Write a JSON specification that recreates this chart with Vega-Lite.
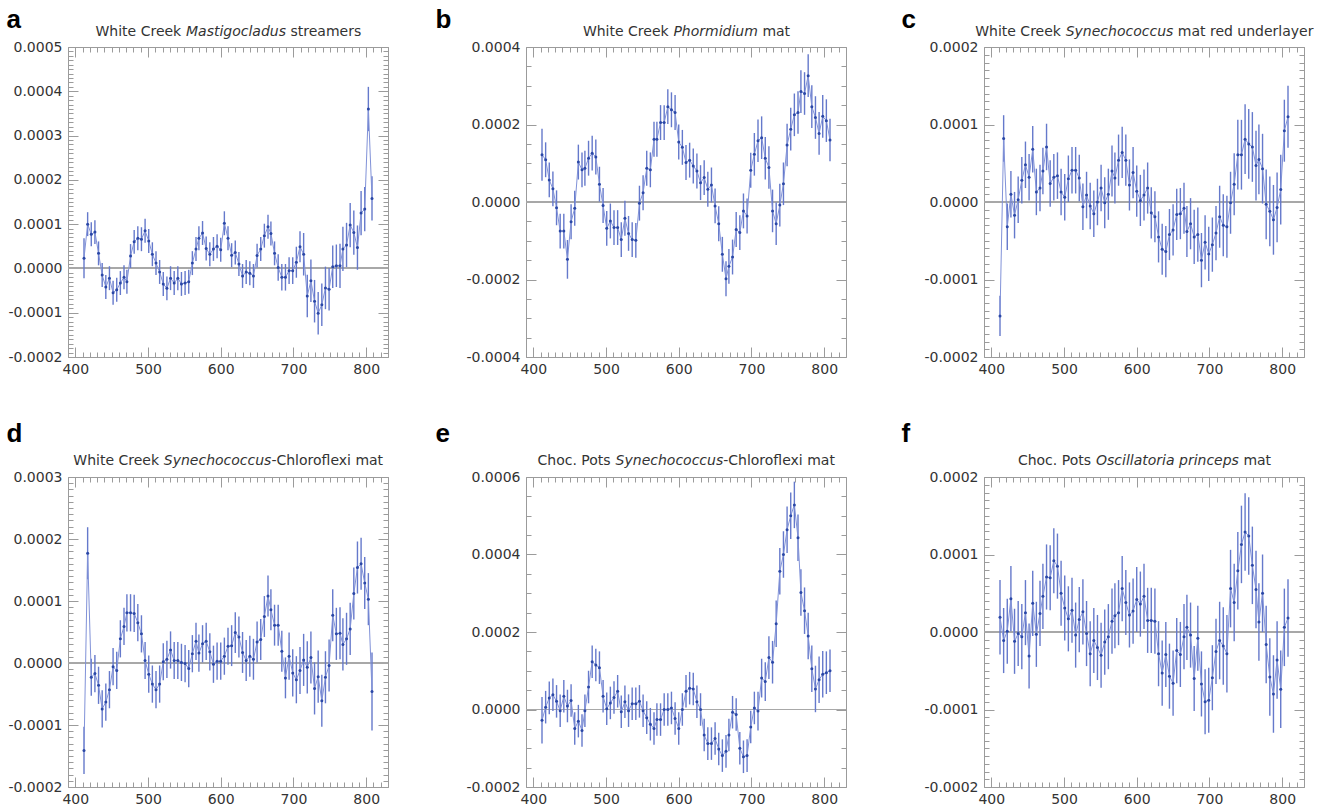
{
"$schema": "https://vega.github.io/schema/vega-lite/v6.json",
"background": "white",
"padding": {"left": 5, "top": 5, "right": 5, "bottom": 5},
"bounds": "flush",
"columns": 3,
"spacing": {"row": 120, "column": 138},
"datasets": {
"a": [
{"x":412,"y":0.23e-4,"e":0.45e-4},{"x":417,"y":1.0e-4,"e":0.27e-4},{"x":422,"y":0.77e-4,"e":0.27e-4},{"x":427,"y":0.82e-4,"e":0.27e-4},{"x":432,"y":0.34e-4,"e":0.27e-4},{"x":437,"y":-0.15e-4,"e":0.27e-4},{"x":442,"y":-0.42e-4,"e":0.27e-4},{"x":447,"y":-0.22e-4,"e":0.27e-4},{"x":452,"y":-0.55e-4,"e":0.27e-4},{"x":457,"y":-0.48e-4,"e":0.27e-4},{"x":462,"y":-0.33e-4,"e":0.27e-4},{"x":467,"y":-0.2e-4,"e":0.27e-4},{"x":471,"y":-0.3e-4,"e":0.27e-4},{"x":476,"y":0.28e-4,"e":0.27e-4},{"x":481,"y":0.6e-4,"e":0.27e-4},{"x":486,"y":0.68e-4,"e":0.27e-4},{"x":491,"y":0.66e-4,"e":0.27e-4},{"x":496,"y":0.85e-4,"e":0.27e-4},{"x":501,"y":0.62e-4,"e":0.27e-4},{"x":506,"y":0.32e-4,"e":0.27e-4},{"x":511,"y":0.12e-4,"e":0.27e-4},{"x":516,"y":-0.08e-4,"e":0.27e-4},{"x":521,"y":-0.35e-4,"e":0.27e-4},{"x":526,"y":-0.45e-4,"e":0.27e-4},{"x":531,"y":-0.22e-4,"e":0.27e-4},{"x":536,"y":-0.33e-4,"e":0.27e-4},{"x":541,"y":-0.22e-4,"e":0.27e-4},{"x":546,"y":-0.35e-4,"e":0.27e-4},{"x":551,"y":-0.33e-4,"e":0.27e-4},{"x":556,"y":-0.3e-4,"e":0.27e-4},{"x":561,"y":0.12e-4,"e":0.27e-4},{"x":566,"y":0.44e-4,"e":0.27e-4},{"x":570,"y":0.68e-4,"e":0.27e-4},{"x":575,"y":0.8e-4,"e":0.27e-4},{"x":580,"y":0.45e-4,"e":0.27e-4},{"x":585,"y":0.32e-4,"e":0.27e-4},{"x":590,"y":0.44e-4,"e":0.27e-4},{"x":595,"y":0.5e-4,"e":0.27e-4},{"x":600,"y":0.42e-4,"e":0.27e-4},{"x":605,"y":1.02e-4,"e":0.27e-4},{"x":610,"y":0.68e-4,"e":0.27e-4},{"x":615,"y":0.3e-4,"e":0.27e-4},{"x":620,"y":0.36e-4,"e":0.27e-4},{"x":625,"y":0.1e-4,"e":0.27e-4},{"x":630,"y":-0.17e-4,"e":0.27e-4},{"x":635,"y":-0.08e-4,"e":0.27e-4},{"x":640,"y":-0.11e-4,"e":0.27e-4},{"x":645,"y":-0.17e-4,"e":0.27e-4},{"x":650,"y":0.29e-4,"e":0.27e-4},{"x":655,"y":0.44e-4,"e":0.27e-4},{"x":660,"y":0.74e-4,"e":0.27e-4},{"x":665,"y":0.94e-4,"e":0.27e-4},{"x":669,"y":0.79e-4,"e":0.27e-4},{"x":674,"y":0.34e-4,"e":0.27e-4},{"x":679,"y":0.02e-4,"e":0.3e-4},{"x":684,"y":-0.2e-4,"e":0.3e-4},{"x":689,"y":-0.2e-4,"e":0.3e-4},{"x":694,"y":-0.05e-4,"e":0.3e-4},{"x":699,"y":-0.05e-4,"e":0.3e-4},{"x":704,"y":0.14e-4,"e":0.35e-4},{"x":709,"y":0.49e-4,"e":0.35e-4},{"x":714,"y":0.32e-4,"e":0.48e-4},{"x":719,"y":-0.62e-4,"e":0.48e-4},{"x":724,"y":-0.28e-4,"e":0.48e-4},{"x":729,"y":-0.74e-4,"e":0.48e-4},{"x":734,"y":-1.01e-4,"e":0.48e-4},{"x":739,"y":-0.82e-4,"e":0.48e-4},{"x":744,"y":-0.44e-4,"e":0.48e-4},{"x":749,"y":-0.47e-4,"e":0.48e-4},{"x":754,"y":0.04e-4,"e":0.48e-4},{"x":759,"y":0.06e-4,"e":0.48e-4},{"x":764,"y":0.06e-4,"e":0.5e-4},{"x":768,"y":0.44e-4,"e":0.5e-4},{"x":773,"y":0.53e-4,"e":0.5e-4},{"x":778,"y":0.98e-4,"e":0.5e-4},{"x":783,"y":0.81e-4,"e":0.5e-4},{"x":788,"y":0.47e-4,"e":0.5e-4},{"x":793,"y":1.25e-4,"e":0.5e-4},{"x":798,"y":1.34e-4,"e":0.5e-4},{"x":803,"y":3.6e-4,"e":0.5e-4},{"x":808,"y":1.58e-4,"e":0.5e-4}
],
"b": [
{"x":412,"y":1.22e-4,"e":0.67e-4},{"x":417,"y":1.09e-4,"e":0.45e-4},{"x":422,"y":0.57e-4,"e":0.45e-4},{"x":427,"y":0.34e-4,"e":0.45e-4},{"x":432,"y":-0.15e-4,"e":0.45e-4},{"x":437,"y":-0.75e-4,"e":0.45e-4},{"x":442,"y":-0.75e-4,"e":0.45e-4},{"x":447,"y":-1.48e-4,"e":0.5e-4},{"x":452,"y":-0.51e-4,"e":0.45e-4},{"x":457,"y":-0.16e-4,"e":0.45e-4},{"x":462,"y":1.03e-4,"e":0.45e-4},{"x":467,"y":0.83e-4,"e":0.45e-4},{"x":471,"y":0.87e-4,"e":0.45e-4},{"x":476,"y":1.13e-4,"e":0.45e-4},{"x":481,"y":1.26e-4,"e":0.45e-4},{"x":486,"y":1.16e-4,"e":0.45e-4},{"x":491,"y":0.46e-4,"e":0.45e-4},{"x":496,"y":-0.09e-4,"e":0.45e-4},{"x":501,"y":-0.68e-4,"e":0.45e-4},{"x":506,"y":-0.49e-4,"e":0.45e-4},{"x":511,"y":-0.66e-4,"e":0.45e-4},{"x":516,"y":-0.66e-4,"e":0.45e-4},{"x":521,"y":-0.97e-4,"e":0.45e-4},{"x":526,"y":-0.42e-4,"e":0.45e-4},{"x":531,"y":-0.81e-4,"e":0.45e-4},{"x":536,"y":-0.97e-4,"e":0.45e-4},{"x":541,"y":-0.99e-4,"e":0.45e-4},{"x":546,"y":-0.03e-4,"e":0.45e-4},{"x":551,"y":0.24e-4,"e":0.45e-4},{"x":556,"y":0.87e-4,"e":0.45e-4},{"x":561,"y":0.83e-4,"e":0.45e-4},{"x":566,"y":1.62e-4,"e":0.45e-4},{"x":570,"y":1.62e-4,"e":0.45e-4},{"x":575,"y":2.05e-4,"e":0.45e-4},{"x":580,"y":2.05e-4,"e":0.45e-4},{"x":585,"y":2.46e-4,"e":0.45e-4},{"x":590,"y":2.38e-4,"e":0.45e-4},{"x":595,"y":2.31e-4,"e":0.45e-4},{"x":600,"y":1.55e-4,"e":0.45e-4},{"x":605,"y":1.41e-4,"e":0.45e-4},{"x":610,"y":1.02e-4,"e":0.45e-4},{"x":615,"y":1.08e-4,"e":0.45e-4},{"x":620,"y":0.93e-4,"e":0.45e-4},{"x":625,"y":0.8e-4,"e":0.45e-4},{"x":630,"y":0.5e-4,"e":0.45e-4},{"x":635,"y":0.63e-4,"e":0.45e-4},{"x":640,"y":0.33e-4,"e":0.45e-4},{"x":645,"y":0.44e-4,"e":0.45e-4},{"x":650,"y":-0.1e-4,"e":0.45e-4},{"x":655,"y":-0.56e-4,"e":0.45e-4},{"x":660,"y":-1.35e-4,"e":0.45e-4},{"x":665,"y":-1.98e-4,"e":0.45e-4},{"x":669,"y":-1.66e-4,"e":0.45e-4},{"x":674,"y":-1.42e-4,"e":0.45e-4},{"x":679,"y":-0.71e-4,"e":0.45e-4},{"x":684,"y":-0.79e-4,"e":0.45e-4},{"x":689,"y":-0.23e-4,"e":0.45e-4},{"x":694,"y":-0.36e-4,"e":0.45e-4},{"x":699,"y":0.82e-4,"e":0.45e-4},{"x":704,"y":1.23e-4,"e":0.55e-4},{"x":709,"y":1.58e-4,"e":0.55e-4},{"x":714,"y":1.66e-4,"e":0.55e-4},{"x":719,"y":1.13e-4,"e":0.55e-4},{"x":724,"y":0.89e-4,"e":0.55e-4},{"x":729,"y":-0.23e-4,"e":0.55e-4},{"x":734,"y":-0.56e-4,"e":0.55e-4},{"x":739,"y":-0.08e-4,"e":0.55e-4},{"x":744,"y":0.47e-4,"e":0.55e-4},{"x":749,"y":1.47e-4,"e":0.55e-4},{"x":754,"y":1.88e-4,"e":0.55e-4},{"x":759,"y":2.25e-4,"e":0.55e-4},{"x":764,"y":2.31e-4,"e":0.55e-4},{"x":768,"y":2.85e-4,"e":0.55e-4},{"x":773,"y":2.8e-4,"e":0.55e-4},{"x":778,"y":3.26e-4,"e":0.55e-4},{"x":783,"y":2.46e-4,"e":0.55e-4},{"x":788,"y":2.18e-4,"e":0.55e-4},{"x":793,"y":1.77e-4,"e":0.55e-4},{"x":798,"y":2.21e-4,"e":0.55e-4},{"x":803,"y":2.1e-4,"e":0.55e-4},{"x":808,"y":1.6e-4,"e":0.55e-4}
],
"c": [
{"x":412,"y":-1.47e-4,"e":0.26e-4},{"x":417,"y":0.82e-4,"e":0.3e-4},{"x":422,"y":-0.32e-4,"e":0.3e-4},{"x":427,"y":0.1e-4,"e":0.3e-4},{"x":432,"y":-0.17e-4,"e":0.3e-4},{"x":437,"y":0.03e-4,"e":0.3e-4},{"x":442,"y":0.28e-4,"e":0.3e-4},{"x":447,"y":0.48e-4,"e":0.3e-4},{"x":452,"y":0.32e-4,"e":0.3e-4},{"x":457,"y":0.68e-4,"e":0.3e-4},{"x":462,"y":0.13e-4,"e":0.3e-4},{"x":467,"y":0.18e-4,"e":0.3e-4},{"x":471,"y":0.4e-4,"e":0.3e-4},{"x":476,"y":0.71e-4,"e":0.3e-4},{"x":481,"y":0.24e-4,"e":0.3e-4},{"x":486,"y":0.32e-4,"e":0.3e-4},{"x":491,"y":0.34e-4,"e":0.3e-4},{"x":496,"y":0.13e-4,"e":0.3e-4},{"x":501,"y":0.06e-4,"e":0.3e-4},{"x":506,"y":0.3e-4,"e":0.3e-4},{"x":511,"y":0.41e-4,"e":0.3e-4},{"x":516,"y":0.41e-4,"e":0.3e-4},{"x":521,"y":0.31e-4,"e":0.3e-4},{"x":526,"y":-0.06e-4,"e":0.3e-4},{"x":531,"y":0.09e-4,"e":0.3e-4},{"x":536,"y":-0.05e-4,"e":0.3e-4},{"x":541,"y":-0.15e-4,"e":0.3e-4},{"x":546,"y":0,"e":0.3e-4},{"x":551,"y":0.18e-4,"e":0.3e-4},{"x":556,"y":-0.01e-4,"e":0.33e-4},{"x":561,"y":0.1e-4,"e":0.33e-4},{"x":566,"y":0.4e-4,"e":0.33e-4},{"x":570,"y":0.31e-4,"e":0.33e-4},{"x":575,"y":0.54e-4,"e":0.33e-4},{"x":580,"y":0.64e-4,"e":0.33e-4},{"x":585,"y":0.54e-4,"e":0.33e-4},{"x":590,"y":0.22e-4,"e":0.33e-4},{"x":595,"y":0.38e-4,"e":0.33e-4},{"x":600,"y":0.14e-4,"e":0.33e-4},{"x":605,"y":0.02e-4,"e":0.33e-4},{"x":610,"y":0.09e-4,"e":0.33e-4},{"x":615,"y":0.18e-4,"e":0.33e-4},{"x":620,"y":-0.14e-4,"e":0.33e-4},{"x":625,"y":-0.19e-4,"e":0.33e-4},{"x":630,"y":-0.45e-4,"e":0.33e-4},{"x":635,"y":-0.61e-4,"e":0.33e-4},{"x":640,"y":-0.64e-4,"e":0.33e-4},{"x":645,"y":-0.42e-4,"e":0.33e-4},{"x":650,"y":-0.36e-4,"e":0.33e-4},{"x":655,"y":-0.16e-4,"e":0.33e-4},{"x":660,"y":-0.15e-4,"e":0.33e-4},{"x":665,"y":-0.08e-4,"e":0.33e-4},{"x":669,"y":-0.38e-4,"e":0.33e-4},{"x":674,"y":-0.28e-4,"e":0.33e-4},{"x":679,"y":-0.45e-4,"e":0.35e-4},{"x":684,"y":-0.42e-4,"e":0.35e-4},{"x":689,"y":-0.75e-4,"e":0.35e-4},{"x":694,"y":-0.52e-4,"e":0.35e-4},{"x":699,"y":-0.67e-4,"e":0.35e-4},{"x":704,"y":-0.55e-4,"e":0.35e-4},{"x":709,"y":-0.4e-4,"e":0.35e-4},{"x":714,"y":-0.19e-4,"e":0.4e-4},{"x":719,"y":-0.3e-4,"e":0.4e-4},{"x":724,"y":-0.32e-4,"e":0.4e-4},{"x":729,"y":-0.01e-4,"e":0.4e-4},{"x":734,"y":0.23e-4,"e":0.4e-4},{"x":739,"y":0.61e-4,"e":0.45e-4},{"x":744,"y":0.61e-4,"e":0.45e-4},{"x":749,"y":0.81e-4,"e":0.45e-4},{"x":754,"y":0.75e-4,"e":0.45e-4},{"x":759,"y":0.71e-4,"e":0.45e-4},{"x":764,"y":0.47e-4,"e":0.45e-4},{"x":768,"y":0.55e-4,"e":0.45e-4},{"x":773,"y":0.43e-4,"e":0.45e-4},{"x":778,"y":-0.03e-4,"e":0.45e-4},{"x":783,"y":-0.12e-4,"e":0.45e-4},{"x":788,"y":-0.23e-4,"e":0.45e-4},{"x":793,"y":-0.07e-4,"e":0.45e-4},{"x":798,"y":0.16e-4,"e":0.45e-4},{"x":803,"y":0.92e-4,"e":0.4e-4},{"x":808,"y":1.1e-4,"e":0.4e-4}
],
"d": [
{"x":412,"y":-1.41e-4,"e":0.38e-4},{"x":417,"y":1.77e-4,"e":0.42e-4},{"x":422,"y":-0.23e-4,"e":0.3e-4},{"x":427,"y":-0.17e-4,"e":0.3e-4},{"x":432,"y":-0.36e-4,"e":0.3e-4},{"x":437,"y":-0.74e-4,"e":0.3e-4},{"x":442,"y":-0.63e-4,"e":0.3e-4},{"x":447,"y":-0.43e-4,"e":0.3e-4},{"x":452,"y":-0.06e-4,"e":0.3e-4},{"x":457,"y":-0.12e-4,"e":0.3e-4},{"x":462,"y":0.39e-4,"e":0.3e-4},{"x":467,"y":0.59e-4,"e":0.3e-4},{"x":471,"y":0.81e-4,"e":0.3e-4},{"x":476,"y":0.81e-4,"e":0.3e-4},{"x":481,"y":0.8e-4,"e":0.3e-4},{"x":486,"y":0.65e-4,"e":0.3e-4},{"x":491,"y":0.47e-4,"e":0.3e-4},{"x":496,"y":0.04e-4,"e":0.3e-4},{"x":501,"y":-0.18e-4,"e":0.3e-4},{"x":506,"y":-0.34e-4,"e":0.3e-4},{"x":511,"y":-0.43e-4,"e":0.3e-4},{"x":516,"y":-0.34e-4,"e":0.3e-4},{"x":521,"y":0.02e-4,"e":0.3e-4},{"x":526,"y":0.06e-4,"e":0.3e-4},{"x":531,"y":0.21e-4,"e":0.3e-4},{"x":536,"y":0.04e-4,"e":0.3e-4},{"x":541,"y":0.04e-4,"e":0.3e-4},{"x":546,"y":0.01e-4,"e":0.3e-4},{"x":551,"y":-0.01e-4,"e":0.3e-4},{"x":556,"y":-0.09e-4,"e":0.3e-4},{"x":561,"y":0.15e-4,"e":0.3e-4},{"x":566,"y":0.35e-4,"e":0.3e-4},{"x":570,"y":0.16e-4,"e":0.3e-4},{"x":575,"y":0.31e-4,"e":0.3e-4},{"x":580,"y":0.35e-4,"e":0.3e-4},{"x":585,"y":0.18e-4,"e":0.3e-4},{"x":590,"y":-0.02e-4,"e":0.3e-4},{"x":595,"y":0.03e-4,"e":0.3e-4},{"x":600,"y":0.03e-4,"e":0.3e-4},{"x":605,"y":0.11e-4,"e":0.3e-4},{"x":610,"y":0.27e-4,"e":0.3e-4},{"x":615,"y":0.28e-4,"e":0.33e-4},{"x":620,"y":0.49e-4,"e":0.33e-4},{"x":625,"y":0.42e-4,"e":0.33e-4},{"x":630,"y":0.17e-4,"e":0.33e-4},{"x":635,"y":0.04e-4,"e":0.33e-4},{"x":640,"y":0.11e-4,"e":0.33e-4},{"x":645,"y":0.06e-4,"e":0.33e-4},{"x":650,"y":0.34e-4,"e":0.33e-4},{"x":655,"y":0.38e-4,"e":0.33e-4},{"x":660,"y":0.75e-4,"e":0.33e-4},{"x":665,"y":1.08e-4,"e":0.33e-4},{"x":669,"y":0.86e-4,"e":0.33e-4},{"x":674,"y":0.61e-4,"e":0.33e-4},{"x":679,"y":0.61e-4,"e":0.33e-4},{"x":684,"y":0.19e-4,"e":0.33e-4},{"x":689,"y":-0.24e-4,"e":0.33e-4},{"x":694,"y":0.11e-4,"e":0.38e-4},{"x":699,"y":-0.16e-4,"e":0.38e-4},{"x":704,"y":-0.27e-4,"e":0.38e-4},{"x":709,"y":-0.12e-4,"e":0.38e-4},{"x":714,"y":0.05e-4,"e":0.42e-4},{"x":719,"y":-0.07e-4,"e":0.42e-4},{"x":724,"y":0.09e-4,"e":0.42e-4},{"x":729,"y":-0.41e-4,"e":0.42e-4},{"x":734,"y":-0.22e-4,"e":0.42e-4},{"x":739,"y":-0.61e-4,"e":0.42e-4},{"x":744,"y":-0.23e-4,"e":0.42e-4},{"x":749,"y":-0.04e-4,"e":0.42e-4},{"x":754,"y":0.77e-4,"e":0.42e-4},{"x":759,"y":0.47e-4,"e":0.42e-4},{"x":764,"y":0.48e-4,"e":0.42e-4},{"x":768,"y":0.3e-4,"e":0.42e-4},{"x":773,"y":0.39e-4,"e":0.42e-4},{"x":778,"y":0.55e-4,"e":0.42e-4},{"x":783,"y":1.12e-4,"e":0.42e-4},{"x":788,"y":1.54e-4,"e":0.42e-4},{"x":793,"y":1.6e-4,"e":0.42e-4},{"x":798,"y":1.29e-4,"e":0.42e-4},{"x":803,"y":1.03e-4,"e":0.42e-4},{"x":808,"y":-0.46e-4,"e":0.63e-4}
],
"e": [
{"x":412,"y":-0.28e-4,"e":0.6e-4},{"x":417,"y":0.06e-4,"e":0.42e-4},{"x":422,"y":0.3e-4,"e":0.42e-4},{"x":427,"y":0.38e-4,"e":0.42e-4},{"x":432,"y":0.21e-4,"e":0.42e-4},{"x":437,"y":-0.03e-4,"e":0.42e-4},{"x":442,"y":0.34e-4,"e":0.42e-4},{"x":447,"y":0.09e-4,"e":0.42e-4},{"x":452,"y":0.23e-4,"e":0.42e-4},{"x":457,"y":-0.49e-4,"e":0.42e-4},{"x":462,"y":-0.3e-4,"e":0.42e-4},{"x":467,"y":-0.54e-4,"e":0.42e-4},{"x":471,"y":-0.03e-4,"e":0.42e-4},{"x":476,"y":0.58e-4,"e":0.42e-4},{"x":481,"y":1.23e-4,"e":0.42e-4},{"x":486,"y":1.15e-4,"e":0.42e-4},{"x":491,"y":1.08e-4,"e":0.42e-4},{"x":496,"y":0.34e-4,"e":0.42e-4},{"x":501,"y":0.02e-4,"e":0.42e-4},{"x":506,"y":0.17e-4,"e":0.42e-4},{"x":511,"y":0.31e-4,"e":0.42e-4},{"x":516,"y":0.47e-4,"e":0.42e-4},{"x":521,"y":-0.06e-4,"e":0.42e-4},{"x":526,"y":0.2e-4,"e":0.42e-4},{"x":531,"y":-0.03e-4,"e":0.42e-4},{"x":536,"y":0.15e-4,"e":0.42e-4},{"x":541,"y":0.15e-4,"e":0.42e-4},{"x":546,"y":0.21e-4,"e":0.42e-4},{"x":551,"y":-0.03e-4,"e":0.42e-4},{"x":556,"y":-0.21e-4,"e":0.42e-4},{"x":561,"y":-0.38e-4,"e":0.42e-4},{"x":566,"y":-0.49e-4,"e":0.42e-4},{"x":570,"y":-0.26e-4,"e":0.42e-4},{"x":575,"y":-0.26e-4,"e":0.42e-4},{"x":580,"y":0,"e":0.42e-4},{"x":585,"y":0,"e":0.42e-4},{"x":590,"y":0.04e-4,"e":0.42e-4},{"x":595,"y":-0.23e-4,"e":0.42e-4},{"x":600,"y":-0.49e-4,"e":0.42e-4},{"x":605,"y":0,"e":0.42e-4},{"x":610,"y":0.47e-4,"e":0.42e-4},{"x":615,"y":0.55e-4,"e":0.42e-4},{"x":620,"y":0.53e-4,"e":0.42e-4},{"x":625,"y":0.2e-4,"e":0.42e-4},{"x":630,"y":0,"e":0.42e-4},{"x":635,"y":-0.66e-4,"e":0.42e-4},{"x":640,"y":-0.88e-4,"e":0.42e-4},{"x":645,"y":-0.88e-4,"e":0.42e-4},{"x":650,"y":-0.75e-4,"e":0.42e-4},{"x":655,"y":-1.02e-4,"e":0.42e-4},{"x":660,"y":-1.19e-4,"e":0.42e-4},{"x":665,"y":-1.08e-4,"e":0.42e-4},{"x":669,"y":-0.66e-4,"e":0.42e-4},{"x":674,"y":-0.07e-4,"e":0.42e-4},{"x":679,"y":-0.13e-4,"e":0.42e-4},{"x":684,"y":-1.0e-4,"e":0.42e-4},{"x":689,"y":-1.22e-4,"e":0.42e-4},{"x":694,"y":-1.19e-4,"e":0.42e-4},{"x":699,"y":-0.45e-4,"e":0.42e-4},{"x":704,"y":0.04e-4,"e":0.42e-4},{"x":709,"y":-0.04e-4,"e":0.5e-4},{"x":714,"y":0.81e-4,"e":0.5e-4},{"x":719,"y":0.72e-4,"e":0.5e-4},{"x":724,"y":1.34e-4,"e":0.55e-4},{"x":729,"y":1.22e-4,"e":0.55e-4},{"x":734,"y":2.21e-4,"e":0.6e-4},{"x":739,"y":3.57e-4,"e":0.6e-4},{"x":744,"y":4.0e-4,"e":0.6e-4},{"x":749,"y":4.64e-4,"e":0.6e-4},{"x":754,"y":5.0e-4,"e":0.6e-4},{"x":759,"y":5.28e-4,"e":0.6e-4},{"x":764,"y":4.43e-4,"e":0.6e-4},{"x":768,"y":3.02e-4,"e":0.6e-4},{"x":773,"y":2.55e-4,"e":0.6e-4},{"x":778,"y":1.9e-4,"e":0.6e-4},{"x":783,"y":1.05e-4,"e":0.6e-4},{"x":788,"y":0.53e-4,"e":0.6e-4},{"x":793,"y":0.77e-4,"e":0.6e-4},{"x":798,"y":0.91e-4,"e":0.6e-4},{"x":803,"y":0.95e-4,"e":0.55e-4},{"x":808,"y":1.0e-4,"e":0.55e-4}
],
"f": [
{"x":412,"y":0.19e-4,"e":0.48e-4},{"x":417,"y":-0.11e-4,"e":0.42e-4},{"x":422,"y":0.01e-4,"e":0.42e-4},{"x":427,"y":0.43e-4,"e":0.42e-4},{"x":432,"y":-0.12e-4,"e":0.42e-4},{"x":437,"y":-0.02e-4,"e":0.42e-4},{"x":442,"y":-0.06e-4,"e":0.42e-4},{"x":447,"y":0.25e-4,"e":0.42e-4},{"x":452,"y":-0.31e-4,"e":0.42e-4},{"x":457,"y":0.37e-4,"e":0.42e-4},{"x":462,"y":-0.03e-4,"e":0.42e-4},{"x":467,"y":0.24e-4,"e":0.42e-4},{"x":471,"y":0.46e-4,"e":0.42e-4},{"x":476,"y":0.71e-4,"e":0.42e-4},{"x":481,"y":0.7e-4,"e":0.42e-4},{"x":486,"y":0.92e-4,"e":0.42e-4},{"x":491,"y":0.85e-4,"e":0.42e-4},{"x":496,"y":0.5e-4,"e":0.42e-4},{"x":501,"y":0.31e-4,"e":0.42e-4},{"x":506,"y":0.17e-4,"e":0.42e-4},{"x":511,"y":0.28e-4,"e":0.42e-4},{"x":516,"y":-0.04e-4,"e":0.42e-4},{"x":521,"y":0.16e-4,"e":0.42e-4},{"x":526,"y":0.26e-4,"e":0.42e-4},{"x":531,"y":-0.02e-4,"e":0.42e-4},{"x":536,"y":-0.28e-4,"e":0.42e-4},{"x":541,"y":-0.11e-4,"e":0.42e-4},{"x":546,"y":-0.2e-4,"e":0.42e-4},{"x":551,"y":-0.3e-4,"e":0.42e-4},{"x":556,"y":-0.13e-4,"e":0.42e-4},{"x":561,"y":-0.06e-4,"e":0.42e-4},{"x":566,"y":0.14e-4,"e":0.42e-4},{"x":570,"y":0.21e-4,"e":0.42e-4},{"x":575,"y":0.25e-4,"e":0.42e-4},{"x":580,"y":0.56e-4,"e":0.42e-4},{"x":585,"y":0.38e-4,"e":0.42e-4},{"x":590,"y":0.22e-4,"e":0.42e-4},{"x":595,"y":0.27e-4,"e":0.42e-4},{"x":600,"y":0.42e-4,"e":0.42e-4},{"x":605,"y":0.36e-4,"e":0.42e-4},{"x":610,"y":0.46e-4,"e":0.42e-4},{"x":615,"y":0.15e-4,"e":0.42e-4},{"x":620,"y":0.15e-4,"e":0.42e-4},{"x":625,"y":0.14e-4,"e":0.42e-4},{"x":630,"y":-0.28e-4,"e":0.42e-4},{"x":635,"y":-0.53e-4,"e":0.42e-4},{"x":640,"y":-0.29e-4,"e":0.42e-4},{"x":645,"y":-0.57e-4,"e":0.42e-4},{"x":650,"y":-0.66e-4,"e":0.42e-4},{"x":655,"y":-0.24e-4,"e":0.42e-4},{"x":660,"y":-0.29e-4,"e":0.42e-4},{"x":665,"y":-0.06e-4,"e":0.42e-4},{"x":669,"y":0.06e-4,"e":0.42e-4},{"x":674,"y":-0.04e-4,"e":0.42e-4},{"x":679,"y":-0.6e-4,"e":0.42e-4},{"x":684,"y":-0.08e-4,"e":0.42e-4},{"x":689,"y":-0.67e-4,"e":0.42e-4},{"x":694,"y":-0.9e-4,"e":0.42e-4},{"x":699,"y":-0.88e-4,"e":0.42e-4},{"x":704,"y":-0.59e-4,"e":0.42e-4},{"x":709,"y":-0.25e-4,"e":0.42e-4},{"x":714,"y":-0.11e-4,"e":0.5e-4},{"x":719,"y":-0.18e-4,"e":0.5e-4},{"x":724,"y":-0.28e-4,"e":0.5e-4},{"x":729,"y":0.56e-4,"e":0.5e-4},{"x":734,"y":0.38e-4,"e":0.5e-4},{"x":739,"y":0.79e-4,"e":0.5e-4},{"x":744,"y":1.13e-4,"e":0.5e-4},{"x":749,"y":1.29e-4,"e":0.5e-4},{"x":754,"y":1.24e-4,"e":0.5e-4},{"x":759,"y":0.86e-4,"e":0.5e-4},{"x":764,"y":0.55e-4,"e":0.5e-4},{"x":768,"y":0.13e-4,"e":0.5e-4},{"x":773,"y":0.5e-4,"e":0.5e-4},{"x":778,"y":-0.16e-4,"e":0.5e-4},{"x":783,"y":-0.58e-4,"e":0.5e-4},{"x":788,"y":-0.8e-4,"e":0.5e-4},{"x":793,"y":-0.36e-4,"e":0.5e-4},{"x":798,"y":-0.74e-4,"e":0.5e-4},{"x":803,"y":0.06e-4,"e":0.5e-4},{"x":808,"y":0.18e-4,"e":0.5e-4}
]
},
"concat": [
{
"width": 320, "height": 310,
"data": {"name": "a"},
"layer": [
{"mark": {"type": "rule", "color": "#a8a8a8", "strokeWidth": 1.2}, "encoding": {"y": {"datum": 0, "type": "quantitative", "scale": {"domain": [-0.0002, 0.0005], "nice": false}, "axis": null}}},
{"mark": {"type": "errorbar", "ticks": false, "color": "#6579cb", "thickness": 1.4}, "encoding": {"x": {"field": "x", "type": "quantitative", "scale": {"domain": [390, 830], "nice": false}, "axis": null}, "y": {"field": "y", "type": "quantitative", "scale": {"domain": [-0.0002, 0.0005], "nice": false}, "axis": null}, "yError": {"field": "e"}}},
{"mark": {"type": "line", "color": "#8192d8", "strokeWidth": 1}, "encoding": {
"x": {"field": "x", "type": "quantitative", "scale": {"domain": [390, 830], "nice": false}, "axis": {"orient": "bottom", "title": "streamers", "titleX": 222, "titleY": -322, "tickCount": 44, "labelExpr": "datum.value % 100 === 0 ? datum.label : ''", "tickSize": {"condition": {"test": "datum.value % 100 === 0", "value": -10}, "value": -5}, "labelPadding": 15}},
"y": {"field": "y", "type": "quantitative", "scale": {"domain": [-0.0002, 0.0005], "nice": false}, "axis": {"orient": "left", "tickCount": 70, "labelExpr": "abs(datum.value*10000-round(datum.value*10000))<0.001 ? replace(format(datum.value,'.4f'),'\u2212','-') : ''", "tickSize": {"condition": {"test": "abs(datum.value*10000-round(datum.value*10000))<0.001", "value": -10}, "value": -5}, "labelPadding": 16, "title": "a", "titleX": -62, "titleY": -20, "titleFont": "Liberation Sans", "titleFontSize": 26, "titleFontWeight": "bold", "titleColor": "#000000"}}}},
{"mark": {"type": "circle", "color": "#2a47a6", "size": 9, "opacity": 1}, "encoding": {
"x": {"field": "x", "type": "quantitative", "scale": {"domain": [390, 830], "nice": false}, "axis": {"orient": "top", "title": "White Creek", "titleX": 27, "titleY": -12, "labels": false, "tickCount": 44, "tickSize": {"condition": {"test": "datum.value % 100 === 0", "value": -10}, "value": -5}}},
"y": {"field": "y", "type": "quantitative", "scale": {"domain": [-0.0002, 0.0005], "nice": false}, "axis": {"orient": "right", "title": "Mastigocladus", "titleX": -202.5, "titleY": -12, "titleFontStyle": "italic", "labels": false, "tickCount": 70, "tickSize": {"condition": {"test": "abs(datum.value*10000-round(datum.value*10000))<0.001", "value": -10}, "value": -5}}}}}
],
"resolve": {"axis": {"x": "independent", "y": "independent"}}
},
{
"width": 320, "height": 310,
"data": {"name": "b"},
"layer": [
{"mark": {"type": "rule", "color": "#a8a8a8", "strokeWidth": 1.2}, "encoding": {"y": {"datum": 0, "type": "quantitative", "scale": {"domain": [-0.0004, 0.0004], "nice": false}, "axis": null}}},
{"mark": {"type": "errorbar", "ticks": false, "color": "#6579cb", "thickness": 1.4}, "encoding": {"x": {"field": "x", "type": "quantitative", "scale": {"domain": [390, 830], "nice": false}, "axis": null}, "y": {"field": "y", "type": "quantitative", "scale": {"domain": [-0.0004, 0.0004], "nice": false}, "axis": null}, "yError": {"field": "e"}}},
{"mark": {"type": "line", "color": "#8192d8", "strokeWidth": 1}, "encoding": {
"x": {"field": "x", "type": "quantitative", "scale": {"domain": [390, 830], "nice": false}, "axis": {"orient": "bottom", "title": "mat", "titleX": 235.9, "titleY": -322, "tickCount": 44, "labelExpr": "datum.value % 100 === 0 ? datum.label : ''", "tickSize": {"condition": {"test": "datum.value % 100 === 0", "value": -10}, "value": -5}, "labelPadding": 15}},
"y": {"field": "y", "type": "quantitative", "scale": {"domain": [-0.0004, 0.0004], "nice": false}, "axis": {"orient": "left", "tickCount": 16, "labelExpr": "abs(datum.value*5000-round(datum.value*5000))<0.001 ? replace(format(datum.value,'.4f'),'\u2212','-') : ''", "tickSize": {"condition": {"test": "abs(datum.value*5000-round(datum.value*5000))<0.001", "value": -10}, "value": -5}, "labelPadding": 16, "title": "b", "titleX": -91, "titleY": -20, "titleFont": "Liberation Sans", "titleFontSize": 26, "titleFontWeight": "bold", "titleColor": "#000000"}}}},
{"mark": {"type": "circle", "color": "#2a47a6", "size": 9, "opacity": 1}, "encoding": {
"x": {"field": "x", "type": "quantitative", "scale": {"domain": [390, 830], "nice": false}, "axis": {"orient": "top", "title": "White Creek", "titleX": 56.4, "titleY": -12, "labels": false, "tickCount": 44, "tickSize": {"condition": {"test": "datum.value % 100 === 0", "value": -10}, "value": -5}}},
"y": {"field": "y", "type": "quantitative", "scale": {"domain": [-0.0004, 0.0004], "nice": false}, "axis": {"orient": "right", "title": "Phormidium", "titleX": -173.1, "titleY": -12, "titleFontStyle": "italic", "labels": false, "tickCount": 16, "tickSize": {"condition": {"test": "abs(datum.value*5000-round(datum.value*5000))<0.001", "value": -10}, "value": -5}}}}}
],
"resolve": {"axis": {"x": "independent", "y": "independent"}}
},
{
"width": 320, "height": 310,
"data": {"name": "c"},
"layer": [
{"mark": {"type": "rule", "color": "#a8a8a8", "strokeWidth": 1.2}, "encoding": {"y": {"datum": 0, "type": "quantitative", "scale": {"domain": [-0.0002, 0.0002], "nice": false}, "axis": null}}},
{"mark": {"type": "errorbar", "ticks": false, "color": "#6579cb", "thickness": 1.4}, "encoding": {"x": {"field": "x", "type": "quantitative", "scale": {"domain": [390, 830], "nice": false}, "axis": null}, "y": {"field": "y", "type": "quantitative", "scale": {"domain": [-0.0002, 0.0002], "nice": false}, "axis": null}, "yError": {"field": "e"}}},
{"mark": {"type": "line", "color": "#8192d8", "strokeWidth": 1}, "encoding": {
"x": {"field": "x", "type": "quantitative", "scale": {"domain": [390, 830], "nice": false}, "axis": {"orient": "bottom", "title": "mat red underlayer", "titleX": 193.3, "titleY": -322, "tickCount": 44, "labelExpr": "datum.value % 100 === 0 ? datum.label : ''", "tickSize": {"condition": {"test": "datum.value % 100 === 0", "value": -10}, "value": -5}, "labelPadding": 15}},
"y": {"field": "y", "type": "quantitative", "scale": {"domain": [-0.0002, 0.0002], "nice": false}, "axis": {"orient": "left", "tickCount": 40, "labelExpr": "abs(datum.value*10000-round(datum.value*10000))<0.001 ? replace(format(datum.value,'.4f'),'\u2212','-') : ''", "tickSize": {"condition": {"test": "abs(datum.value*10000-round(datum.value*10000))<0.001", "value": -10}, "value": -5}, "labelPadding": 16, "title": "c", "titleX": -83, "titleY": -20, "titleFont": "Liberation Sans", "titleFontSize": 26, "titleFontWeight": "bold", "titleColor": "#000000"}}}},
{"mark": {"type": "circle", "color": "#2a47a6", "size": 9, "opacity": 1}, "encoding": {
"x": {"field": "x", "type": "quantitative", "scale": {"domain": [390, 830], "nice": false}, "axis": {"orient": "top", "title": "White Creek", "titleX": -9.3, "titleY": -12, "labels": false, "tickCount": 44, "tickSize": {"condition": {"test": "datum.value % 100 === 0", "value": -10}, "value": -5}}},
"y": {"field": "y", "type": "quantitative", "scale": {"domain": [-0.0002, 0.0002], "nice": false}, "axis": {"orient": "right", "title": "Synechococcus", "titleX": -238.8, "titleY": -12, "titleFontStyle": "italic", "labels": false, "tickCount": 40, "tickSize": {"condition": {"test": "abs(datum.value*10000-round(datum.value*10000))<0.001", "value": -10}, "value": -5}}}}}
],
"resolve": {"axis": {"x": "independent", "y": "independent"}}
},
{
"width": 320, "height": 310,
"data": {"name": "d"},
"layer": [
{"mark": {"type": "rule", "color": "#a8a8a8", "strokeWidth": 1.2}, "encoding": {"y": {"datum": 0, "type": "quantitative", "scale": {"domain": [-0.0002, 0.0003], "nice": false}, "axis": null}}},
{"mark": {"type": "errorbar", "ticks": false, "color": "#6579cb", "thickness": 1.4}, "encoding": {"x": {"field": "x", "type": "quantitative", "scale": {"domain": [390, 830], "nice": false}, "axis": null}, "y": {"field": "y", "type": "quantitative", "scale": {"domain": [-0.0002, 0.0003], "nice": false}, "axis": null}, "yError": {"field": "e"}}},
{"mark": {"type": "line", "color": "#8192d8", "strokeWidth": 1}, "encoding": {
"x": {"field": "x", "type": "quantitative", "scale": {"domain": [390, 830], "nice": false}, "axis": {"orient": "bottom", "title": "-Chloroflexi mat", "titleX": 202.9, "titleY": -323, "tickCount": 44, "labelExpr": "datum.value % 100 === 0 ? datum.label : ''", "tickSize": {"condition": {"test": "datum.value % 100 === 0", "value": -10}, "value": -5}, "labelPadding": 15}},
"y": {"field": "y", "type": "quantitative", "scale": {"domain": [-0.0002, 0.0003], "nice": false}, "axis": {"orient": "left", "tickCount": 50, "labelExpr": "abs(datum.value*10000-round(datum.value*10000))<0.001 ? replace(format(datum.value,'.4f'),'\u2212','-') : ''", "tickSize": {"condition": {"test": "abs(datum.value*10000-round(datum.value*10000))<0.001", "value": -10}, "value": -5}, "labelPadding": 16, "title": "d", "titleX": -62, "titleY": -36, "titleFont": "Liberation Sans", "titleFontSize": 26, "titleFontWeight": "bold", "titleColor": "#000000"}}}},
{"mark": {"type": "circle", "color": "#2a47a6", "size": 9, "opacity": 1}, "encoding": {
"x": {"field": "x", "type": "quantitative", "scale": {"domain": [390, 830], "nice": false}, "axis": {"orient": "top", "title": "White Creek", "titleX": 4.8, "titleY": -13, "labels": false, "tickCount": 44, "tickSize": {"condition": {"test": "datum.value % 100 === 0", "value": -10}, "value": -5}}},
"y": {"field": "y", "type": "quantitative", "scale": {"domain": [-0.0002, 0.0003], "nice": false}, "axis": {"orient": "right", "title": "Synechococcus", "titleX": -224.7, "titleY": -13, "titleFontStyle": "italic", "labels": false, "tickCount": 50, "tickSize": {"condition": {"test": "abs(datum.value*10000-round(datum.value*10000))<0.001", "value": -10}, "value": -5}}}}}
],
"resolve": {"axis": {"x": "independent", "y": "independent"}}
},
{
"width": 320, "height": 310,
"data": {"name": "e"},
"layer": [
{"mark": {"type": "rule", "color": "#a8a8a8", "strokeWidth": 1.2}, "encoding": {"y": {"datum": 0, "type": "quantitative", "scale": {"domain": [-0.0002, 0.0006], "nice": false}, "axis": null}}},
{"mark": {"type": "errorbar", "ticks": false, "color": "#6579cb", "thickness": 1.4}, "encoding": {"x": {"field": "x", "type": "quantitative", "scale": {"domain": [390, 830], "nice": false}, "axis": null}, "y": {"field": "y", "type": "quantitative", "scale": {"domain": [-0.0002, 0.0006], "nice": false}, "axis": null}, "yError": {"field": "e"}}},
{"mark": {"type": "line", "color": "#8192d8", "strokeWidth": 1}, "encoding": {
"x": {"field": "x", "type": "quantitative", "scale": {"domain": [390, 830], "nice": false}, "axis": {"orient": "bottom", "title": "-Chloroflexi mat", "titleX": 196.7, "titleY": -323, "tickCount": 44, "labelExpr": "datum.value % 100 === 0 ? datum.label : ''", "tickSize": {"condition": {"test": "datum.value % 100 === 0", "value": -10}, "value": -5}, "labelPadding": 15}},
"y": {"field": "y", "type": "quantitative", "scale": {"domain": [-0.0002, 0.0006], "nice": false}, "axis": {"orient": "left", "tickCount": 16, "labelExpr": "abs(datum.value*5000-round(datum.value*5000))<0.001 ? replace(format(datum.value,'.4f'),'\u2212','-') : ''", "tickSize": {"condition": {"test": "abs(datum.value*5000-round(datum.value*5000))<0.001", "value": -10}, "value": -5}, "labelPadding": 16, "title": "e", "titleX": -91, "titleY": -36, "titleFont": "Liberation Sans", "titleFontSize": 26, "titleFontWeight": "bold", "titleColor": "#000000"}}}},
{"mark": {"type": "circle", "color": "#2a47a6", "size": 9, "opacity": 1}, "encoding": {
"x": {"field": "x", "type": "quantitative", "scale": {"domain": [390, 830], "nice": false}, "axis": {"orient": "top", "title": "Choc. Pots", "titleX": 11, "titleY": -13, "labels": false, "tickCount": 44, "tickSize": {"condition": {"test": "datum.value % 100 === 0", "value": -10}, "value": -5}}},
"y": {"field": "y", "type": "quantitative", "scale": {"domain": [-0.0002, 0.0006], "nice": false}, "axis": {"orient": "right", "title": "Synechococcus", "titleX": -230.9, "titleY": -13, "titleFontStyle": "italic", "labels": false, "tickCount": 16, "tickSize": {"condition": {"test": "abs(datum.value*5000-round(datum.value*5000))<0.001", "value": -10}, "value": -5}}}}}
],
"resolve": {"axis": {"x": "independent", "y": "independent"}}
},
{
"width": 320, "height": 310,
"data": {"name": "f"},
"layer": [
{"mark": {"type": "rule", "color": "#a8a8a8", "strokeWidth": 1.2}, "encoding": {"y": {"datum": 0, "type": "quantitative", "scale": {"domain": [-0.0002, 0.0002], "nice": false}, "axis": null}}},
{"mark": {"type": "errorbar", "ticks": false, "color": "#6579cb", "thickness": 1.4}, "encoding": {"x": {"field": "x", "type": "quantitative", "scale": {"domain": [390, 830], "nice": false}, "axis": null}, "y": {"field": "y", "type": "quantitative", "scale": {"domain": [-0.0002, 0.0002], "nice": false}, "axis": null}, "yError": {"field": "e"}}},
{"mark": {"type": "line", "color": "#8192d8", "strokeWidth": 1}, "encoding": {
"x": {"field": "x", "type": "quantitative", "scale": {"domain": [390, 830], "nice": false}, "axis": {"orient": "bottom", "title": "mat", "titleX": 258.9, "titleY": -323, "tickCount": 44, "labelExpr": "datum.value % 100 === 0 ? datum.label : ''", "tickSize": {"condition": {"test": "datum.value % 100 === 0", "value": -10}, "value": -5}, "labelPadding": 15}},
"y": {"field": "y", "type": "quantitative", "scale": {"domain": [-0.0002, 0.0002], "nice": false}, "axis": {"orient": "left", "tickCount": 40, "labelExpr": "abs(datum.value*10000-round(datum.value*10000))<0.001 ? replace(format(datum.value,'.4f'),'\u2212','-') : ''", "tickSize": {"condition": {"test": "abs(datum.value*10000-round(datum.value*10000))<0.001", "value": -10}, "value": -5}, "labelPadding": 16, "title": "f", "titleX": -83, "titleY": -36, "titleFont": "Liberation Sans", "titleFontSize": 26, "titleFontWeight": "bold", "titleColor": "#000000"}}}},
{"mark": {"type": "circle", "color": "#2a47a6", "size": 9, "opacity": 1}, "encoding": {
"x": {"field": "x", "type": "quantitative", "scale": {"domain": [390, 830], "nice": false}, "axis": {"orient": "top", "title": "Choc. Pots", "titleX": 33.4, "titleY": -13, "labels": false, "tickCount": 44, "tickSize": {"condition": {"test": "datum.value % 100 === 0", "value": -10}, "value": -5}}},
"y": {"field": "y", "type": "quantitative", "scale": {"domain": [-0.0002, 0.0002], "nice": false}, "axis": {"orient": "right", "title": "Oscillatoria princeps", "titleX": -208.5, "titleY": -13, "titleFontStyle": "italic", "labels": false, "tickCount": 40, "tickSize": {"condition": {"test": "abs(datum.value*10000-round(datum.value*10000))<0.001", "value": -10}, "value": -5}}}}}
],
"resolve": {"axis": {"x": "independent", "y": "independent"}}
}
],
"config": {
"font": "DejaVu Sans",
"view": {"stroke": "#9b9b9b", "strokeWidth": 1},
"axis": {"domain": false, "grid": false, "tickColor": "#9b9b9b", "tickWidth": 1, "labelColor": "#333333", "labelFontSize": 14, "labelFont": "DejaVu Sans", "labelFlush": false, "labelOverlap": false, "titleAngle": 0, "titleFontSize": 14, "titleFontWeight": "normal", "titleFont": "DejaVu Sans", "titleColor": "#333333", "titleAlign": "left", "titleBaseline": "alphabetic"}
}
}
